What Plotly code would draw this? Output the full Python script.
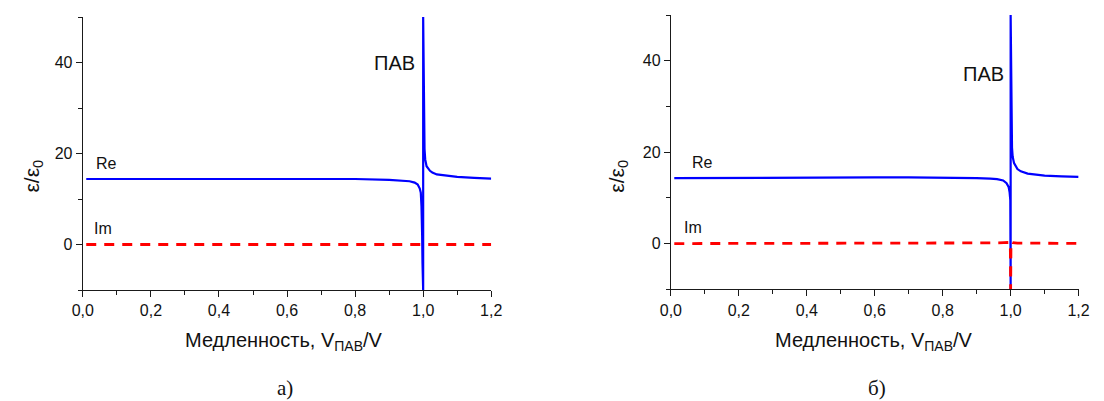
import plotly.graph_objects as go

# --- panel а): real and imaginary parts of the permittivity ---
x_re_a = [0.01, 0.1, 0.2, 0.3, 0.4, 0.5, 0.6, 0.7, 0.8, 0.9, 0.94, 0.96, 0.975,
          0.984, 0.99, 0.993, 0.995, 0.996, 0.997, 0.998, 0.999, 1.0, 1.0,
          1.001, 1.002, 1.004, 1.006, 1.0075, 1.01, 1.02, 1.027, 1.04, 1.075,
          1.1, 1.15, 1.2]
re_a = [14.4, 14.4, 14.45, 14.5, 14.5, 14.5, 14.5, 14.45, 14.4, 14.2, 14.05,
        13.9, 13.6, 13.2, 12.3, 11.4, 8.5, 6.2, 2.0, -4.0, -10.0, -10.0, 50.0,
        35.0, 26.0, 21.0, 18.7, 18.0, 17.2, 16.2, 15.8, 15.4, 15.0, 14.85,
        14.65, 14.5]
x_im_a = [0.01, 0.2, 0.4, 0.6, 0.8, 1.0, 1.2]
im_a = [0.0, 0.0, 0.0, 0.0, 0.0, 0.0, 0.0]

# --- panel б) ---
x_re_b = [0.01, 0.1, 0.2, 0.3, 0.4, 0.5, 0.6, 0.7, 0.8, 0.9, 0.94, 0.96, 0.978,
          0.988, 0.994, 0.997, 0.999, 0.9995, 1.0, 1.0, 1.001, 1.002, 1.004,
          1.006, 1.01, 1.02, 1.03, 1.05, 1.075, 1.1, 1.15, 1.2]
re_b = [14.3, 14.35, 14.4, 14.45, 14.5, 14.5, 14.5, 14.5, 14.45, 14.3, 14.2,
        14.1, 13.8, 13.2, 12.4, 11.2, 9.5, 2.0, -10.0, 50.0, 35.0, 26.0, 21.0,
        19.0, 17.6, 16.3, 15.8, 15.3, 15.0, 14.85, 14.7, 14.6]
x_im_b = [0.01, 0.2, 0.4, 0.6, 0.8, 0.9, 0.95, 0.98, 0.995, 0.999, 1.0, 1.0,
          1.0003, 1.001, 1.003, 1.006, 1.02, 1.1, 1.2]
im_b = [0.0, 0.0, 0.05, 0.05, 0.1, 0.1, 0.15, 0.2, 0.25, 0.25, -10.0, 0.0, 0.3,
        0.4, 0.3, 0.2, 0.1, 0.05, 0.05]

x_ticks = [0.0, 0.2, 0.4, 0.6, 0.8, 1.0, 1.2]
y_ticks = [0, 20, 40]

W, H = 1104, 401
BLUE = "#0000FF"
RED = "#FF0000"
AX = "#1a1a1a"
SANS = "Liberation Sans, Arial, sans-serif"
SERIF = "Liberation Serif, Times New Roman, serif"


def px(x):
    return x / W


def py(y):
    return 1 - y / H


fig = go.Figure()

fig.add_trace(go.Scatter(x=x_re_a, y=re_a, mode="lines",
                         line=dict(color=BLUE, width=2.2),
                         xaxis="x", yaxis="y", showlegend=False))
fig.add_trace(go.Scatter(x=x_im_a, y=im_a, mode="lines",
                         line=dict(color=RED, width=2.8, dash="10px,8px"),
                         xaxis="x", yaxis="y", showlegend=False))
fig.add_trace(go.Scatter(x=x_re_b, y=re_b, mode="lines",
                         line=dict(color=BLUE, width=2.2),
                         xaxis="x2", yaxis="y2", showlegend=False))
fig.add_trace(go.Scatter(x=x_im_b, y=im_b, mode="lines",
                         line=dict(color=RED, width=2.8, dash="10px,8px"),
                         xaxis="x2", yaxis="y2", showlegend=False))

xcommon = dict(range=[0, 1.2], tickvals=x_ticks, tickformat=".1f",
               ticks="outside", ticklen=6, tickwidth=1, tickcolor=AX,
               showline=True, linecolor=AX, linewidth=1.3, showgrid=False,
               zeroline=False, mirror=False,
               minor=dict(dtick=0.1, tick0=0, ticks="outside", ticklen=3.5,
                          tickcolor=AX, tickwidth=1, showgrid=False),
               tickfont=dict(family=SANS, size=16, color="#111"))
ycommon = dict(range=[-10, 50], tickvals=y_ticks,
               ticks="outside", ticklen=6, tickwidth=1, tickcolor=AX,
               showline=True, linecolor=AX, linewidth=1.3, showgrid=False,
               zeroline=False, mirror=False,
               minor=dict(dtick=10, tick0=-10, ticks="outside", ticklen=3.5,
                          tickcolor=AX, tickwidth=1, showgrid=False),
               tickfont=dict(family=SANS, size=16, color="#111"))

fig.update_layout(
    width=W, height=H,
    margin=dict(l=0, r=0, t=0, b=0),
    paper_bgcolor="white", plot_bgcolor="white",
    separators=", ",
    xaxis=dict(domain=[px(73.3), px(490)], anchor="y", **xcommon),
    yaxis=dict(domain=[py(290), py(17)], anchor="x", **ycommon),
    xaxis2=dict(domain=[px(673.3), px(1089.3)], anchor="y2", **xcommon),
    yaxis2=dict(domain=[py(289.3), py(15)], anchor="x2", **ycommon),
)

ann = []
# curve labels, panel а)
ann.append(dict(x=0.034, y=17.9, xref="x", yref="y", text="Re",
                xanchor="left", yanchor="middle", showarrow=False,
                font=dict(family=SANS, size=16, color="#111")))
ann.append(dict(x=0.028, y=3.5, xref="x", yref="y", text="Im",
                xanchor="left", yanchor="middle", showarrow=False,
                font=dict(family=SANS, size=16, color="#111")))
ann.append(dict(x=0.983, y=40, xref="x", yref="y", text="ПАВ",
                xanchor="right", yanchor="middle", showarrow=False,
                font=dict(family=SANS, size=20, color="#111")))
# curve labels, panel б)
ann.append(dict(x=0.055, y=17.7, xref="x2", yref="y2", text="Re",
                xanchor="left", yanchor="middle", showarrow=False,
                font=dict(family=SANS, size=16, color="#111")))
ann.append(dict(x=0.032, y=3.45, xref="x2", yref="y2", text="Im",
                xanchor="left", yanchor="middle", showarrow=False,
                font=dict(family=SANS, size=16, color="#111")))
ann.append(dict(x=0.985, y=37.2, xref="x2", yref="y2", text="ПАВ",
                xanchor="right", yanchor="middle", showarrow=False,
                font=dict(family=SANS, size=20, color="#111")))

# axis titles and panel captions
for cx, cy_t, ycx in [(279, 341, 22), (881, 341, 619)]:
    ann.append(dict(x=px(cx), y=py(cy_t), xref="paper", yref="paper",
                    text="Медленность, V<sub>ПАВ</sub>/V",
                    xanchor="center", yanchor="middle", showarrow=False,
                    font=dict(family=SANS, size=20, color="#111")))
    ann.append(dict(x=px(ycx), y=py(176), xref="paper", yref="paper",
                    text="ε/ε<sub>0</sub>", textangle=-90,
                    xanchor="center", yanchor="middle", showarrow=False,
                    font=dict(family=SANS, size=21, color="#111")))
for cx, cap in [(280, "а)"), (884, "б)")]:
    ann.append(dict(x=px(cx), y=py(388), xref="paper", yref="paper", text=cap,
                    xanchor="center", yanchor="middle", showarrow=False,
                    borderpad=0,
                    font=dict(family=SERIF, size=21, color="#111")))

fig.update_layout(annotations=ann)
fig.write_html("out.html")
